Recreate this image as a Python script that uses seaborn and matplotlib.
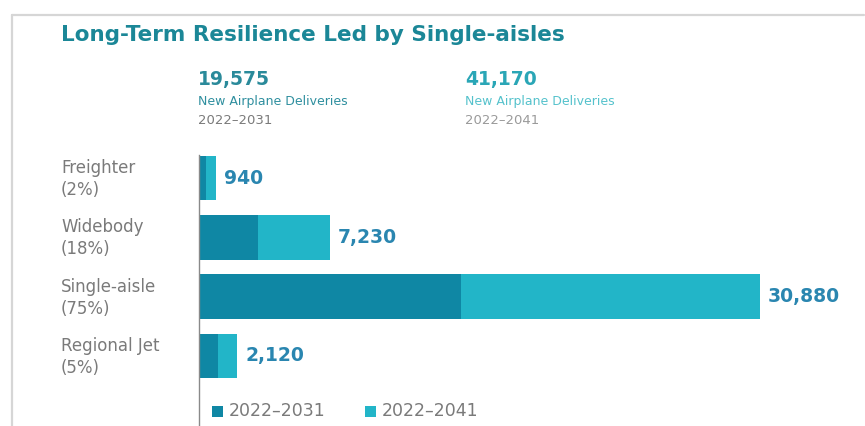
import matplotlib
matplotlib.use("Agg")
import matplotlib.pyplot as plt
import matplotlib.patches as mpatches
import matplotlib.lines as mlines
import seaborn as sns
import pandas as pd

# Deliveries by segment
categories = ["Freighter", "Widebody", "Single-aisle", "Regional Jet"]
shares = ["(2%)", "(18%)", "(75%)", "(5%)"]
deliveries_2041 = [940, 7230, 30880, 2120]
deliveries_2031 = [420, 3260, 14450, 1075]
total_2031 = "19,575"
total_2041 = "41,170"
period_labels = ["2022\u20132031", "2022\u20132041"]

DARK = "#0f87a4"
LIGHT = "#22b5c8"
TITLE = "#1b8797"
GRAY = "#7a7a7a"
VALUE = "#2a86b0"

sns.set_theme(style="white")
plt.rcParams["font.family"] = ["DejaVu Sans"]

W, H = 865, 426
fig = plt.figure(figsize=(W / 100, H / 100), dpi=100)
fig.patch.set_facecolor("white")

def fx(px):
    return px / W

def fy(py):
    return 1 - py / H

# light frame on top and left
fig.add_artist(mlines.Line2D([fx(12), fx(864)], [fy(15), fy(15)], color="#d6d6d6", lw=1.6))
fig.add_artist(mlines.Line2D([fx(12), fx(12)], [fy(15), fy(426)], color="#d6d6d6", lw=1.6))

# bar axes: x=0 at 198.5 px, 18.18 px per 1000; rows every 59.3 px from 178 px
x0, px_per = 198.5, 0.01818
row0, row_step = 178.0, 59.3
top_y, bot_y = -0.38, (426 - row0) / row_step
ax_top = row0 + top_y * row_step
ax = fig.add_axes([fx(x0), fy(426), fx(862 - x0), (426 - ax_top) / H])

df = pd.DataFrame({"segment": categories, "d41": deliveries_2041, "d31": deliveries_2031})
sns.barplot(data=df, x="d41", y="segment", orient="h", color=LIGHT, width=0.75,
            saturation=1, linewidth=0, ax=ax, order=categories)
sns.barplot(data=df, x="d31", y="segment", orient="h", color=DARK, width=0.75,
            saturation=1, linewidth=0, ax=ax, order=categories)

ax.set_xlim(0, (862 - x0) / px_per)
ax.set_ylim(bot_y, top_y)
ax.set_xlabel("")
ax.set_ylabel("")
ax.set_xticks([])
ax.set_yticks([])
for side in ["top", "right", "bottom"]:
    ax.spines[side].set_visible(False)
ax.spines["left"].set_color("#8a8a8a")
ax.spines["left"].set_linewidth(1.0)
ax.patch.set_alpha(0)

for i, v in enumerate(deliveries_2041):
    ax.text(v + 8 / px_per, i, f"{v:,}", va="center", ha="left",
            fontsize=13.5, fontweight="bold", color=VALUE)

# category labels
for i, (c, s) in enumerate(zip(categories, shares)):
    yc = row0 + i * row_step
    fig.text(fx(61), fy(yc - 10), c, fontsize=12, color=GRAY, va="center", ha="left")
    fig.text(fx(61), fy(yc + 12), s, fontsize=12, color=GRAY, va="center", ha="left")

# title
fig.text(fx(61), fy(35), "Long-Term Resilience Led by Single-aisles",
         fontsize=15.5, fontweight="bold", color=TITLE, va="center", ha="left")

# headline totals
fig.text(fx(198), fy(79), total_2031, fontsize=13.5, fontweight="bold", color="#2a8a9a",
         va="center", ha="left")
fig.text(fx(198), fy(101), "New Airplane Deliveries", fontsize=9, color="#2f8f9f",
         va="center", ha="left")
fig.text(fx(198), fy(120), period_labels[0], fontsize=9.5, color=GRAY, va="center", ha="left")

fig.text(fx(465), fy(79), total_2041, fontsize=13.5, fontweight="bold", color="#2aa6b6",
         va="center", ha="left")
fig.text(fx(465), fy(101), "New Airplane Deliveries", fontsize=9, color="#55c2cc",
         va="center", ha="left")
fig.text(fx(465), fy(120), period_labels[1], fontsize=9.5, color="#9a9a9a", va="center", ha="left")

# legend
for sx, col, lab in [(212, DARK, period_labels[0]), (365, LIGHT, period_labels[1])]:
    fig.add_artist(mpatches.Rectangle((fx(sx), fy(417)), fx(11), 11 / H,
                                      facecolor=col, edgecolor="none"))
    fig.text(fx(sx + 17), fy(411), lab, fontsize=12.5, color=GRAY, va="center", ha="left")

fig.savefig("out.png", dpi=100, facecolor="white")
